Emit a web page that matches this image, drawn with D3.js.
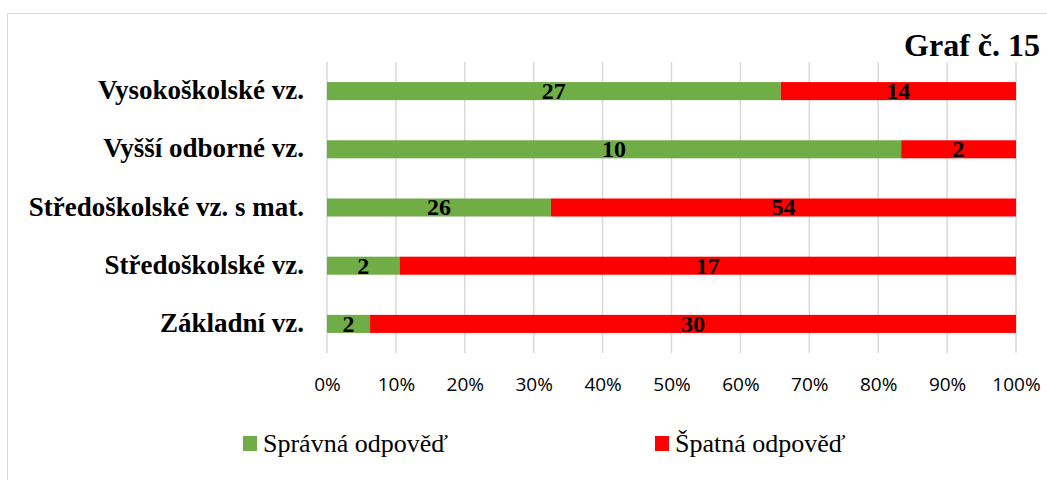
<!DOCTYPE html>
<html>
<head>
<meta charset="utf-8">
<script src="https://cdn.jsdelivr.net/npm/d3@7"></script>
<style>
  body { margin: 0; background: #fff; }
  svg { display: block; }
</style>
</head>
<body>
<svg id="chart" width="1047" height="480"></svg>
<script>
// categories from top to bottom
const categories = ["Vysokoškolské vz.", "Vyšší odborné vz.", "Středoškolské vz. s mat.", "Středoškolské vz.", "Základní vz."];
const seriesNames = ["Správná odpověď", "Špatná odpověď"];
const correct = [27, 10, 26, 2, 2];
const wrong = [14, 2, 54, 17, 30];
const tickValues = [0, 0.1, 0.2, 0.3, 0.4, 0.5, 0.6, 0.7, 0.8, 0.9, 1];
const colours = ["#70AD47", "#FF0000"];

const serif = "'Liberation Serif', 'Times New Roman', serif";
const svg = d3.select("#chart");

// outer frame
svg.append("rect")
   .attr("x", 7.5).attr("y", 13.5)
   .attr("width", 1060).attr("height", 480)
   .attr("fill", "none")
   .attr("stroke", "#d9d9d9");

// title
svg.append("text")
   .attr("x", 1040).attr("y", 56)
   .attr("text-anchor", "end")
   .style("font-family", serif)
   .style("font-weight", "bold")
   .style("font-size", "32px")
   .text("Graf č. 15");

const x = d3.scaleLinear().domain([0, 1]).range([327, 1016]);
const y = d3.scaleBand().domain(categories).range([62, 353]).paddingInner(0.69).paddingOuter(0.345);

// gridlines
svg.append("g").selectAll("line")
   .data(tickValues)
   .join("line")
   .attr("x1", d => x(d)).attr("x2", d => x(d))
   .attr("y1", 62).attr("y2", 353)
   .attr("stroke", "#d9d9d9")
   .attr("stroke-width", 1.5);

// stack the data as shares of each row
const rows = categories.map((c, i) => ({cat: c, a: correct[i], b: wrong[i]}));
const stack = d3.stack().keys(["a", "b"]).offset(d3.stackOffsetExpand);
const layers = stack(rows);

const layerG = svg.append("g").selectAll("g")
   .data(layers)
   .join("g")
   .attr("fill", (d, i) => colours[i]);

layerG.selectAll("rect")
   .data(d => d)
   .join("rect")
   .attr("x", d => x(d[0]))
   .attr("width", d => x(d[1]) - x(d[0]))
   .attr("y", d => y(d.data.cat))
   .attr("height", y.bandwidth());

// value labels
layerG.selectAll("text")
   .data(d => d.map(s => ({s: s, key: d.key})))
   .join("text")
   .attr("x", d => (x(d.s[0]) + x(d.s[1])) / 2)
   .attr("y", d => y(d.s.data.cat) + y.bandwidth() / 2)
   .attr("dy", "0.33em")
   .attr("text-anchor", "middle")
   .attr("fill", "#000")
   .style("font-family", serif)
   .style("font-weight", "bold")
   .style("font-size", "24px")
   .text(d => d.s.data[d.key]);

// category labels
svg.append("g").selectAll("text")
   .data(categories)
   .join("text")
   .attr("x", 304)
   .attr("y", d => y(d) + y.bandwidth() / 2)
   .attr("dy", "0.3em")
   .attr("text-anchor", "end")
   .style("font-family", serif)
   .style("font-weight", "bold")
   .style("font-size", "27px")
   .text(d => d);

// x axis tick labels
const xAxis = d3.axisBottom(x).tickValues(tickValues).tickFormat(d3.format(".0%")).tickSize(0).tickPadding(0);
const axisG = svg.append("g")
   .attr("transform", "translate(0,377)")
   .call(xAxis);
axisG.select(".domain").remove();
axisG.selectAll("text")
   .attr("fill", "#000")
   .attr("dy", "0.74em")
   .style("font-family", "'Open Sans', sans-serif")
   .style("font-size", "19px");

// legend
const legendX = [243, 655];
const legend = svg.append("g").selectAll("g")
   .data(seriesNames)
   .join("g")
   .attr("transform", (d, i) => `translate(${legendX[i]},443)`);
legend.append("rect")
   .attr("x", 0).attr("y", -7)
   .attr("width", 14).attr("height", 15)
   .attr("fill", (d, i) => colours[i]);
legend.append("text")
   .attr("x", 20).attr("y", 9)
   .style("font-family", serif)
   .style("font-size", "26px")
   .text(d => d);
</script>
</body>
</html>
